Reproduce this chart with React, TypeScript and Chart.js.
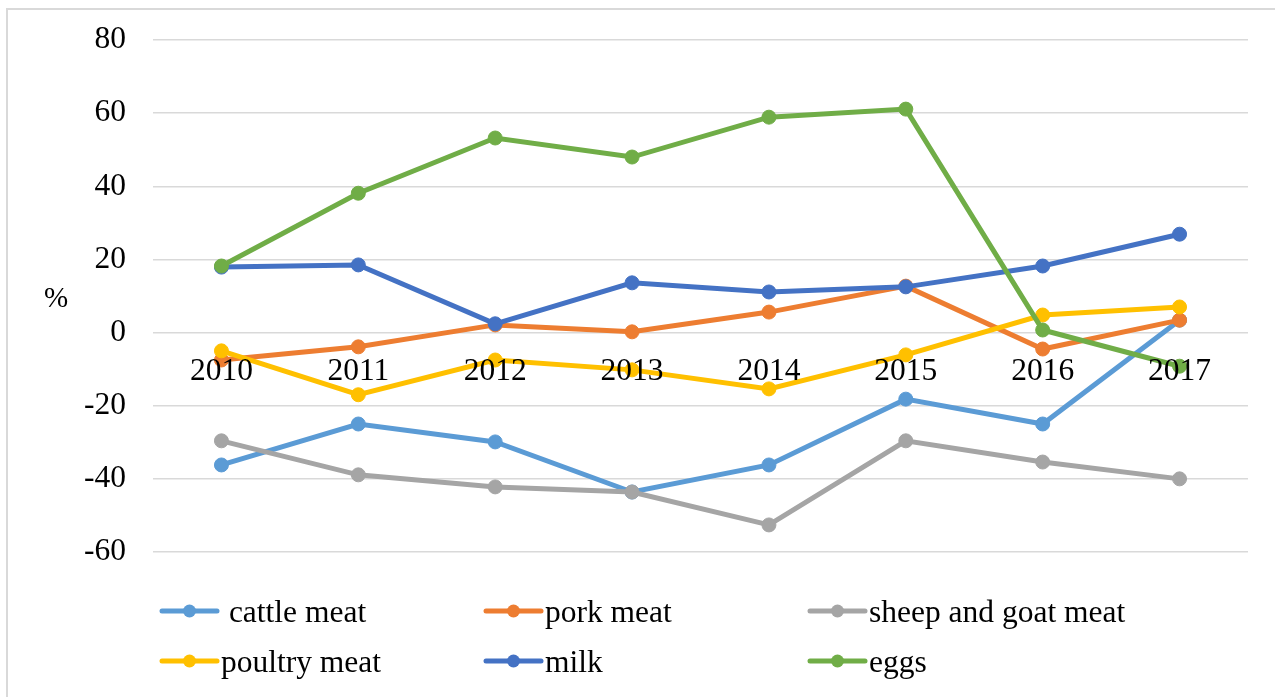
import React, { useEffect, useRef } from "react";
import { Chart, registerables } from "chart.js";

Chart.register(...registerables);

const years = ["2010", "2011", "2012", "2013", "2014", "2015", "2016", "2017"];
const cattleMeat = [-36.2, -25, -29.9, -43.6, -36.2, -18.2, -25, 3.4];
const porkMeat = [-7.5, -3.9, 2.1, 0.2, 5.6, 12.7, -4.5, 3.4];
const sheepGoatMeat = [-29.6, -38.9, -42.2, -43.6, -52.6, -29.6, -35.4, -40];
const poultryMeat = [-5, -17, -7.5, -10.2, -15.4, -6.1, 4.8, 7];
const milk = [17.9, 18.5, 2.4, 13.6, 11.1, 12.5, 18.2, 26.9];
const eggs = [18.2, 38.1, 53.2, 48, 58.9, 61.1, 0.7, -9.2];

const seriesNames = [" cattle meat", "pork meat", "sheep and goat meat", "poultry meat", "milk", "eggs"];
const seriesColors = ["#5B9BD5", "#ED7D31", "#A5A5A5", "#FFC000", "#4472C4", "#70AD47"];
const seriesValues = [cattleMeat, porkMeat, sheepGoatMeat, poultryMeat, milk, eggs];
const yTickMin = -60;
const yTickMax = 80;
const yTickStep = 20;
const yTitle = "%";

const FONT = "'Liberation Serif', 'Times New Roman', serif";

const legendPlugin = {
  id: "customLegend",
  afterDraw(chart: any) {
    const ctx = chart.ctx;
    ctx.save();
    ctx.fillStyle = "#000";
    ctx.font = `29px ${FONT}`;
    ctx.textAlign = "center";
    ctx.textBaseline = "middle";
    ctx.fillText(yTitle, 56, 299);

    const colX = [162, 486, 810];
    const rowY = [611, 661];
    chart.data.datasets.forEach((ds: any, i: number) => {
      const x0 = colX[i % 3];
      const y = rowY[Math.floor(i / 3)];
      const len = 55;
      ctx.strokeStyle = ds.borderColor;
      ctx.lineWidth = 5;
      ctx.lineCap = "round";
      ctx.beginPath();
      ctx.moveTo(x0, y);
      ctx.lineTo(x0 + len, y);
      ctx.stroke();
      ctx.fillStyle = ds.borderColor;
      ctx.beginPath();
      ctx.arc(x0 + len / 2, y, 6.5, 0, Math.PI * 2);
      ctx.fill();
      ctx.fillStyle = "#000";
      ctx.font = `31.5px ${FONT}`;
      ctx.textAlign = "left";
      ctx.textBaseline = "alphabetic";
      ctx.fillText(ds.label, x0 + len + 4, y + 11);
    });
    ctx.restore();
  },
};

export default function App() {
  const ref = useRef<HTMLCanvasElement>(null);
  useEffect(() => {
    if (!ref.current) return;
    const chart = new Chart(ref.current, {
      type: "line",
      data: {
        labels: years,
        datasets: seriesValues.map((vals, i) => ({
          label: seriesNames[i],
          data: vals,
          borderColor: seriesColors[i],
          backgroundColor: seriesColors[i],
          pointBackgroundColor: seriesColors[i],
          pointBorderColor: seriesColors[i],
          borderWidth: 5,
          pointRadius: 7,
          pointBorderWidth: 1,
          tension: 0,
          fill: false,
          order: seriesValues.length - i,
        })),
      },
      options: {
        animation: false,
        responsive: false,
        devicePixelRatio: 1,
        layout: { padding: { left: 0, top: 40, right: 27, bottom: 145 } },
        plugins: { legend: { display: false }, tooltip: { enabled: false } },
        scales: {
          x: {
            type: "category",
            offset: true,
            position: { y: 0 } as any,
            grid: { display: false, drawTicks: false },
            border: { display: false },
            ticks: {
              color: "#000",
              font: { family: FONT, size: 31.5 },
              padding: 20,
              z: 1,
              maxRotation: 0,
              autoSkip: false,
            },
          },
          y: {
            min: yTickMin,
            max: yTickMax,
            ticks: {
              stepSize: yTickStep,
              color: "#000",
              font: { family: FONT, size: 31.5 },
              padding: 0,
            },
            grid: {
              color: "#D9D9D9",
              lineWidth: 1.5,
              drawTicks: true,
              tickLength: 27,
              tickColor: "rgba(0,0,0,0)",
            },
            border: { display: false },
            afterFit: (s: any) => {
              s.width = 153;
            },
          },
        },
      },
      plugins: [legendPlugin],
    });
    return () => chart.destroy();
  }, []);

  return (
    <div style={{ position: "fixed", left: 0, top: 0, width: 1275, height: 697, overflow: "hidden", background: "#fff" }}>
      <div
        style={{
          position: "absolute",
          left: 6,
          top: 8,
          width: 1320,
          height: 740,
          border: "2px solid #D9D9D9",
        }}
      />
      <canvas ref={ref} width={1275} height={697} style={{ position: "absolute", left: 0, top: 0 }} />
    </div>
  );
}
